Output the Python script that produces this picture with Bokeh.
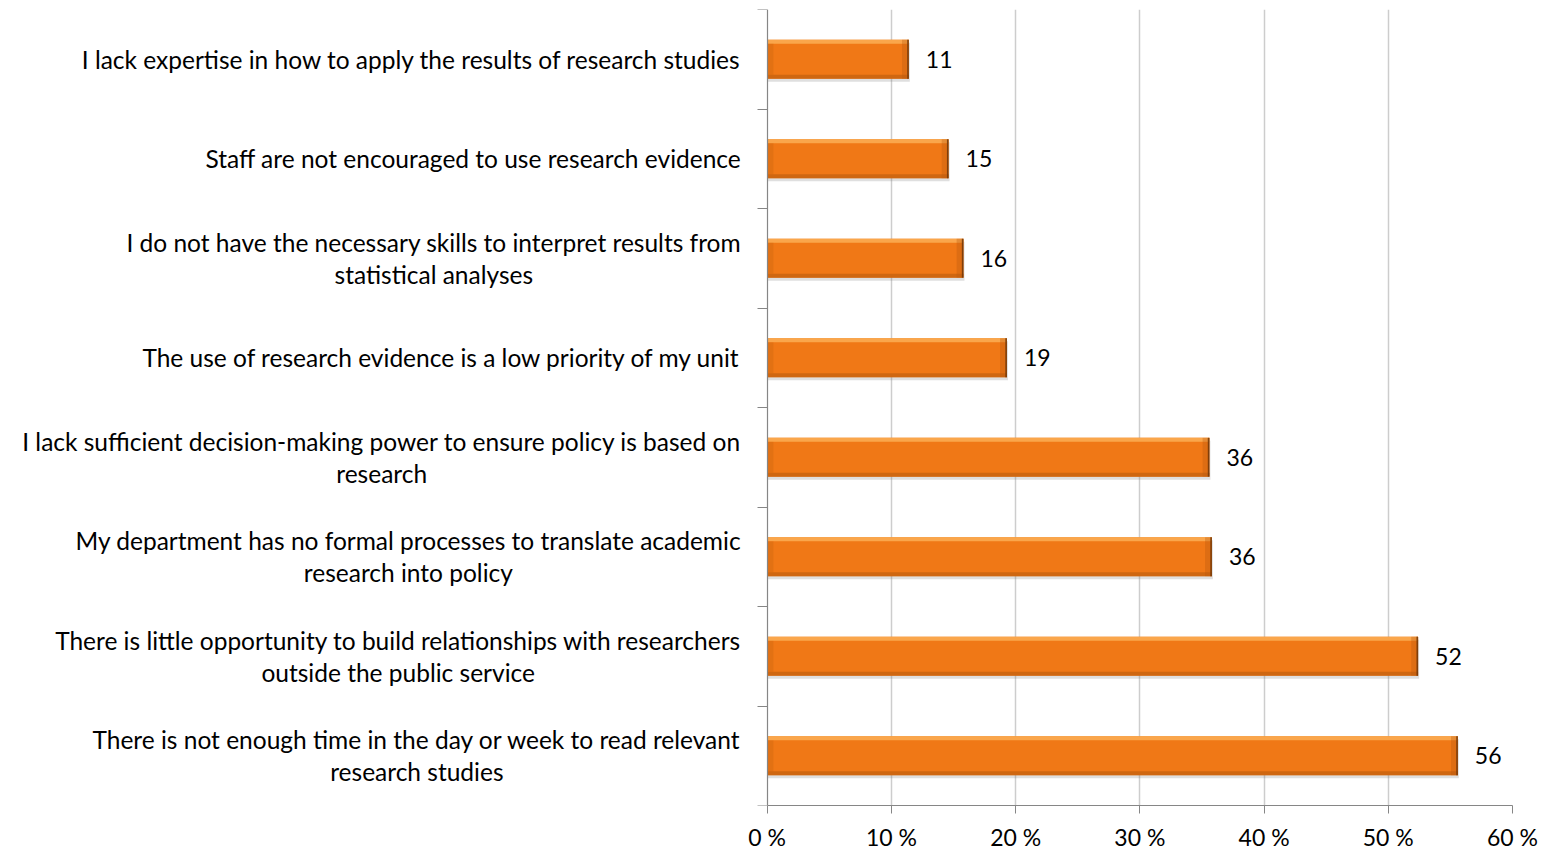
from bokeh.plotting import figure
from bokeh.models import Range1d, FixedTicker
from bokeh.core.properties import value
from bokeh.embed import file_html
from bokeh.resources import INLINE
import numpy as np

# ---- data (top to bottom) ----
categories = [
    "I lack expertise in how to apply the results of research studies",
    "Staff are not encouraged to use research evidence",
    "I do not have the necessary skills to interpret results from\nstatistical analyses",
    "The use of research evidence is a low priority of my unit",
    "I lack sufficient decision-making power to ensure policy is based on\nresearch",
    "My department has no formal processes to translate academic\nresearch into policy",
    "There is little opportunity to build relationships with researchers\noutside the public service",
    "There is not enough time in the day or week to read relevant\nresearch studies",
]
values = [11.4, 14.6, 15.8, 19.3, 35.6, 35.8, 52.4, 55.6]
value_labels = ["11", "15", "16", "19", "36", "36", "52", "56"]
x_ticks = [0, 10, 20, 30, 40, 50, 60]
x_tick_labels = ["0 %", "10 %", "20 %", "30 %", "40 %", "50 %", "60 %"]

# ---- layout constants ----
W, H = 1545, 853
FONT = "Lato"
CAT_SIZE = 24.5
frame_left = 0
border_right = 33
frame_right = W - border_right
zero_px = 766.7
ppu = (frame_right - zero_px) / x_ticks[-1]
x_start = -(zero_px - frame_left) / ppu

n = len(categories)
ys = np.array([n - i - 0.5 for i in range(n)])
vals = np.array(values)
bh = 0.39

p = figure(width=W, height=H, x_range=Range1d(x_start, x_ticks[-1]),
           y_range=Range1d(0, n), output_backend="svg", toolbar_location=None,
           min_border_left=0, min_border_right=border_right, min_border_top=9,
           min_border_bottom=0, background_fill_color="white",
           border_fill_color="white")
p.outline_line_color = None

# grid
p.ygrid.visible = False
p.xgrid.ticker = FixedTicker(ticks=x_ticks[1:])
p.xgrid.grid_line_color = "#CDCDCD"
p.xgrid.grid_line_width = 1.5

# x axis
xa = p.xaxis[0]
xa.ticker = FixedTicker(ticks=x_ticks)
xa.major_label_overrides = {t: l for t, l in zip(x_ticks, x_tick_labels)}
xa.bounds = (0, x_ticks[-1])
xa.axis_line_color = "#868686"
xa.axis_line_width = 1.2
xa.major_tick_line_color = "#868686"
xa.major_tick_out = 8
xa.major_tick_in = 0
xa.minor_tick_line_color = None
xa.major_label_text_font = FONT
xa.major_label_text_font_size = "23px"
xa.major_label_text_color = "#000000"
xa.major_label_standoff = 9

# y axis at x = 0, ticks at category boundaries
ya = p.yaxis[0]
ya.fixed_location = 0
ya.ticker = FixedTicker(ticks=list(range(n + 1)))
ya.major_label_overrides = {i: "" for i in range(n + 1)}
ya.major_label_standoff = 0
ya.major_tick_out = 10
ya.major_tick_in = 0
ya.minor_tick_line_color = None
ya.axis_line_color = "#868686"
ya.axis_line_width = 1.2
ya.major_tick_line_color = "#868686"

# bars (bevelled look)
p.hbar(y=ys - 0.03, left=0, right=vals + 0.08, height=bh, fill_color="#6f6f6f",
       fill_alpha=0.22, line_color=None)
p.hbar(y=ys, left=0, right=vals, height=bh, fill_color="#F07816", line_color=None)
p.hbar(y=ys + bh / 2 - 0.02, left=0, right=vals, height=0.04,
       fill_color="#FAA94E", fill_alpha=0.95, line_color=None)
p.hbar(y=ys - bh / 2 + 0.02, left=0, right=vals, height=0.04,
       fill_color="#C0600F", fill_alpha=0.7, line_color=None)
p.hbar(y=ys, left=0, right=0.5, height=bh - 0.08, fill_color="#C9640F",
       fill_alpha=0.35, line_color=None)
p.hbar(y=ys, left=vals - 0.55, right=vals, height=bh, fill_color="#B95A0E",
       fill_alpha=0.35, line_color=None)
p.hbar(y=ys, left=vals - 0.13, right=vals, height=bh, fill_color="#6E3608",
       fill_alpha=0.85, line_color=None)

# value labels
p.text(x=vals, y=ys, text=value_labels, x_offset=17, text_align="left",
       text_baseline="middle", text_font=value(FONT), text_font_size="23px",
       text_color="#000000")

# category labels (right-anchored block, centred lines)
p.text(x=0, y=ys, text=categories, x_offset=-26, anchor="center_right",
       text_align="center", text_baseline="middle", text_font=value(FONT),
       text_font_size=f"{CAT_SIZE}px", text_line_height=32 / (CAT_SIZE * 1.2),
       text_color="#000000")

open("out.html", "w").write(file_html(p, INLINE))
